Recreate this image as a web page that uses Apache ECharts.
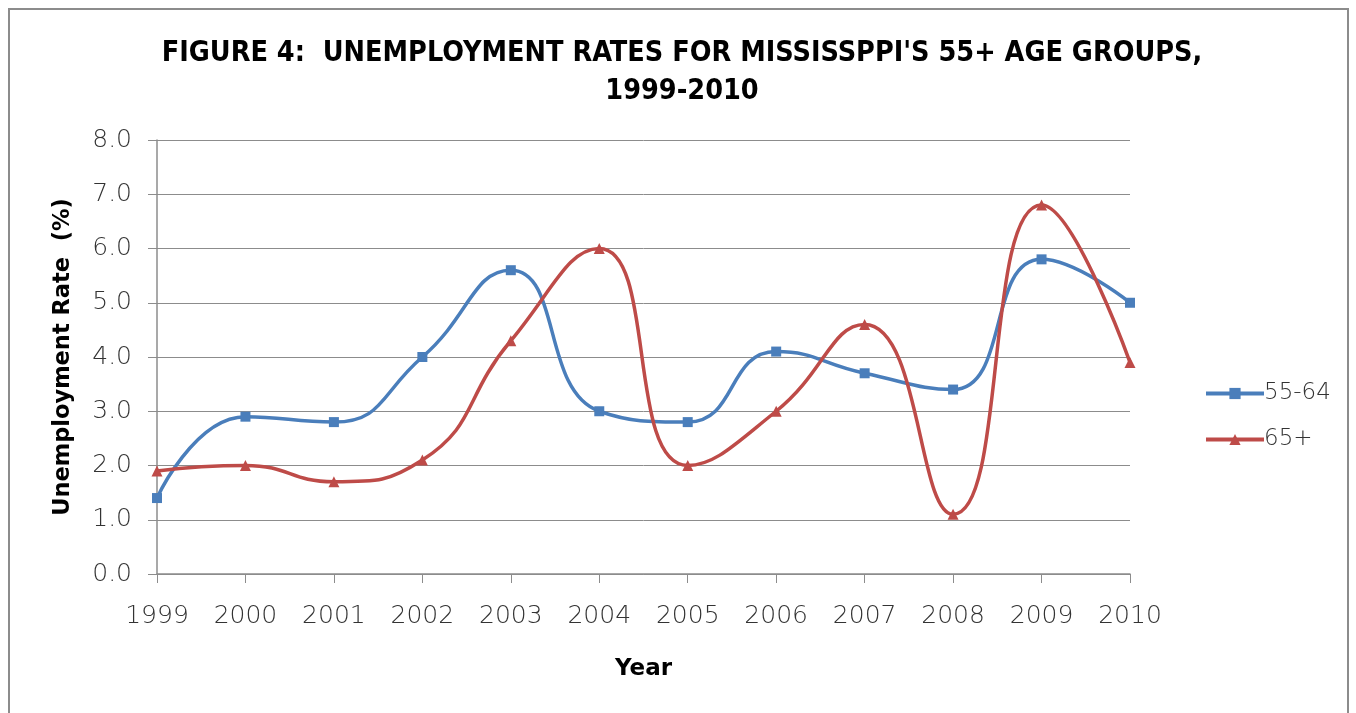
<!DOCTYPE html>
<html>
<head>
<meta charset="utf-8">
<script src="https://cdn.jsdelivr.net/npm/echarts@6/dist/echarts.min.js"></script>
<style>
html,body{margin:0;padding:0;background:#fff;}
#main{width:1356px;height:713px;}
</style>
</head>
<body>
<div id="main"></div>
<script>
const years = ['1999','2000','2001','2002','2003','2004','2005','2006','2007','2008','2009','2010'];
const s5564 = [1.4, 2.9, 2.8, 4.0, 5.6, 3.0, 2.8, 4.1, 3.7, 3.4, 5.8, 5.0];
const s65 = [1.9, 2.0, 1.7, 2.1, 4.3, 6.0, 2.0, 3.0, 4.6, 1.1, 6.8, 3.9];
const seriesNames = ['55-64', '65+'];

const chart = echarts.init(document.getElementById('main'));
const labelFont = '"DejaVu Sans", sans-serif';
chart.setOption({
  animation: false,
  graphic: [{
    type: 'rect',
    shape: {x: 9, y: 9, width: 1339, height: 720},
    style: {fill: 'none', stroke: '#8c8c8c', lineWidth: 2}
  }],
  title: {
    text: "FIGURE 4:  UNEMPLOYMENT RATES FOR MISSISSPPI'S 55+ AGE GROUPS,\n1999-2010",
    left: 677, top: 30, textAlign: 'center',
    textStyle: {fontFamily: '"DejaVu Sans Condensed", "DejaVu Sans", sans-serif', fontWeight: 'bold', fontSize: 28.5, color: '#000', lineHeight: 38}
  },
  grid: {left: 157, right: 226, top: 140, bottom: 139},
  legend: {
    orient: 'vertical', left: 1199, top: 377, itemGap: 23, itemWidth: 58, itemHeight: 14,
    lineStyle: {width: 4},
    textStyle: {fontFamily: labelFont, fontSize: 23, color: '#333', fontWeight: 200, padding: [0,0,0,-5]},
    data: seriesNames
  },
  xAxis: {
    type: 'category', data: years, boundaryGap: false,
    name: 'Year', nameLocation: 'middle', nameGap: 84,
    nameTextStyle: {fontFamily: labelFont, fontWeight: 'bold', fontSize: 23, color: '#000'},
    axisLine: {lineStyle: {color: '#8c8c8c', width: 1.5}},
    axisTick: {alignWithLabel: true, length: 9, lineStyle: {color: '#8c8c8c'}},
    axisLabel: {fontFamily: labelFont, fontSize: 25, fontWeight: 200, color: '#333', margin: 30}
  },
  yAxis: {
    type: 'value', min: 0, max: 8, interval: 1,
    name: 'Unemployment Rate  (%)', nameLocation: 'middle', nameGap: 82, nameRotate: 90,
    nameTextStyle: {fontFamily: labelFont, fontWeight: 'bold', fontSize: 22.5, color: '#000'},
    axisLine: {show: true, lineStyle: {color: '#8c8c8c', width: 1.5}},
    axisTick: {show: true, length: 9, lineStyle: {color: '#8c8c8c'}},
    axisLabel: {fontFamily: labelFont, fontSize: 25, fontWeight: 200, color: '#333', margin: 25, formatter: v => v.toFixed(1)},
    splitLine: {lineStyle: {color: '#8c8c8c', width: 1}}
  },
  series: [
    {
      name: seriesNames[0], type: 'line', data: s5564, smooth: 0.5,
      symbol: 'rect', symbolSize: 10,
      lineStyle: {color: '#4A7EBB', width: 3.5},
      itemStyle: {color: '#4A7EBB'}
    },
    {
      name: seriesNames[1], type: 'line', data: s65, smooth: 0.5,
      symbol: 'triangle', symbolSize: 11,
      lineStyle: {color: '#BE4B48', width: 3.5},
      itemStyle: {color: '#BE4B48'}
    }
  ]
});
</script>
</body>
</html>
